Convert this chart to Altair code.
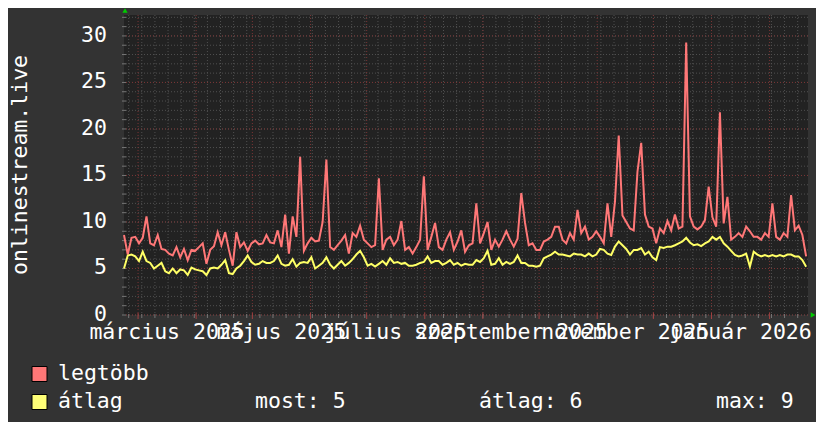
import altair as alt
import pandas as pd

# ---- data (one sample every 2 days) ----
legtobb = [
    8.6, 6.5, 8.3, 8.4, 7.7, 8.3, 10.6, 7.7, 7.5, 8.6,
    7.1, 7.0, 6.6, 6.4, 7.3, 6.2, 7.1, 5.9, 7.0, 6.9,
    7.3, 7.7, 5.5, 7.0, 7.4, 8.9, 7.5, 8.9, 7.0, 5.3,
    8.9, 7.3, 7.8, 6.9, 7.7, 8.0, 7.6, 7.7, 8.6, 7.8,
    7.7, 9.1, 7.3, 10.8, 6.6, 10.6, 8.4, 17.0, 6.9, 7.7,
    8.3, 7.9, 8.0, 10.0, 16.7, 7.3, 7.0, 7.5, 8.0, 8.6,
    6.6, 8.8, 8.4, 9.6, 8.1, 7.7, 7.3, 7.5, 14.7, 7.0,
    8.1, 8.4, 7.5, 8.1, 10.1, 7.0, 7.3, 6.6, 7.3, 8.1,
    14.9, 7.0, 8.4, 9.9, 7.3, 7.0, 8.1, 8.9, 7.0, 7.9,
    9.1, 6.8, 7.5, 7.7, 12.0, 7.7, 8.8, 10.0, 7.0, 8.1,
    7.35, 8.1, 9.0, 8.1, 7.35, 8.2, 13.1, 9.9, 7.5, 7.7,
    7.0, 7.0, 7.9, 8.1, 8.4, 9.5, 9.5, 8.1, 7.7, 8.8,
    8.1, 11.3, 8.8, 9.5, 8.1, 8.4, 9.0, 8.4, 7.7, 12.0,
    8.4, 12.2, 19.3, 10.7, 10.0, 9.3, 9.1, 15.4, 18.5, 10.8,
    9.5, 9.3, 7.7, 9.3, 8.8, 10.1, 9.1, 10.8, 9.3, 9.5,
    29.3, 10.6, 9.5, 9.2, 9.5, 10.2, 13.8, 10.5, 9.5, 21.8,
    9.85, 12.7, 8.1, 8.4, 8.8, 8.4, 9.5, 9.0, 8.4, 8.4,
    8.1, 8.8, 8.4, 12.0, 8.4, 8.1, 8.8, 8.4, 12.9, 9.1,
    9.6, 8.6, 6.3,
]
atlag = [
    5.0, 6.4, 6.5, 6.3, 5.8, 6.8, 5.8, 5.6, 5.0, 5.3,
    5.6, 4.7, 4.5, 5.0, 4.5, 4.9, 4.8, 4.3, 5.1, 4.9,
    4.8, 4.7, 4.3, 5.0, 5.1, 5.0, 5.4, 5.9, 4.5, 4.4,
    5.0, 5.3, 5.8, 6.4, 5.7, 5.4, 5.5, 5.8, 5.6, 5.6,
    5.8, 6.4, 5.5, 5.3, 5.4, 6.0, 5.2, 5.6, 5.7, 5.6,
    6.2, 5.0, 5.3, 5.6, 6.2, 5.4, 5.0, 5.4, 5.8, 5.3,
    5.6, 6.0, 6.5, 6.9, 6.2, 5.3, 5.5, 5.2, 5.5, 5.8,
    5.4, 6.1, 5.6, 5.7, 5.5, 5.6, 5.3, 5.3, 5.4, 5.6,
    5.7, 6.3, 5.6, 5.8, 5.8, 5.4, 5.6, 5.9, 5.4, 5.6,
    5.3, 5.5, 5.4, 5.4, 5.9, 5.7, 6.1, 6.9, 5.4, 5.5,
    6.1, 5.4, 5.7, 5.5, 5.7, 6.4, 5.6, 5.6, 5.3, 5.3,
    5.2, 5.3, 6.1, 6.3, 6.5, 6.8, 6.5, 6.5, 6.4, 6.3,
    6.6, 6.5, 6.5, 6.3, 6.6, 6.3, 6.5, 7.1, 7.0, 6.6,
    6.45, 7.35, 7.9, 7.5, 7.1, 6.5, 7.0, 7.0, 7.2, 6.5,
    6.8, 6.2, 5.9, 7.3, 7.2, 7.35, 7.35, 7.5, 7.7, 7.9,
    8.3, 7.8, 7.5, 7.6, 7.4, 7.7, 7.9, 8.4, 8.1, 8.4,
    7.7, 7.35, 6.9, 6.45, 6.3, 6.4, 6.6, 5.2, 6.8, 6.5,
    6.3, 6.45, 6.3, 6.45, 6.3, 6.45, 6.3, 6.5, 6.5, 6.3,
    6.3, 5.9, 5.2,
]
start = "2025-02-21 12:00"

month_label_texts = ["március 2025", "május 2025", "július 2025",
                     "szeptember 2025", "november 2025", "január 2026"]
month_label_dates = ["2025-03-16 12:00", "2025-05-16 12:00", "2025-07-16 12:00",
                     "2025-09-16 00:00", "2025-11-16 00:00", "2026-01-16 12:00"]
y_major = [0, 5, 10, 15, 20, 25, 30]
y_minor = list(range(0, 33))
y_title = "onlinestream.live"
legend_names = ["legtöbb", "átlag"]
stat_labels = ["most: 5", "átlag: 6", "max: 9"]

RED = "#ff7777"
YEL = "#ffff66"
FONT = "DejaVu Sans Mono"
FS = 21.5

dates = pd.date_range(start, periods=len(legtobb), freq="2D")
df = pd.DataFrame({"date": dates, "legtobb": legtobb, "atlag": atlag})
months = pd.DataFrame({"date": pd.date_range("2025-03-01", periods=12, freq="MS")})
weeks = pd.DataFrame({"date": pd.date_range("2025-02-24", "2026-02-21", freq="7D")})
xlab = pd.DataFrame({"date": pd.to_datetime(month_label_dates), "t": month_label_texts})
ylab = pd.DataFrame({"v": y_major, "t": [str(v) for v in y_major]})

xs = alt.Scale(domain=[alt.DateTime(year=2025, month=2, date=21, hours=12),
                       alt.DateTime(year=2026, month=2, date=21, hours=12)])
ys = alt.Scale(domain=[0, 32.25], nice=False, zero=False)

X = lambda f="date": alt.X(f"{f}:T", scale=xs, axis=None)
Y = lambda f: alt.Y(f"{f}:Q", scale=ys, axis=None)

grid_minor_y = alt.Chart(pd.DataFrame({"v": y_minor})).mark_rule(
    color="#505050", strokeDash=[1, 2], strokeWidth=1).encode(y=Y("v"))
grid_minor_x = alt.Chart(weeks).mark_rule(
    color="#505050", strokeDash=[1, 2], strokeWidth=1).encode(x=X())
grid_major_y = alt.Chart(pd.DataFrame({"v": y_major})).mark_rule(
    color="#7a3535", strokeDash=[1, 2], strokeWidth=1).encode(y=Y("v"))
grid_major_x = alt.Chart(months).mark_rule(
    color="#7a3535", strokeDash=[1, 2], strokeWidth=1).encode(x=X())

tick_minor_x = alt.Chart(weeks).mark_rule(color="#777777").encode(
    x=X(), y=alt.value(299), y2=alt.value(303))
tick_major_x = alt.Chart(months).mark_rule(color="#a04040").encode(
    x=X(), y=alt.value(298), y2=alt.value(304))
tick_minor_y = alt.Chart(pd.DataFrame({"v": y_minor})).mark_rule(color="#777777").encode(
    y=Y("v"), x=alt.value(-2), x2=alt.value(2))

line_max = alt.Chart(df).mark_line(color=RED, strokeWidth=2).encode(x=X(), y=Y("legtobb"))
line_avg = alt.Chart(df).mark_line(color=YEL, strokeWidth=2).encode(x=X(), y=Y("atlag"))

x_labels = alt.Chart(xlab).mark_text(font=FONT, fontSize=FS, color="white",
                                     align="center", baseline="alphabetic").encode(
    x=X(), y=alt.value(323.5), text="t:N")
y_labels = alt.Chart(ylab).mark_text(font=FONT, fontSize=FS, color="white",
                                     align="right", baseline="middle").encode(
    y=Y("v"), x=alt.value(-17), text="t:N")
y_title_mark = alt.Chart(pd.DataFrame({"t": [y_title]})).mark_text(
    font=FONT, fontSize=FS, color="white", angle=270, align="center",
    baseline="alphabetic").encode(x=alt.value(-97), y=alt.value(150), text="t:N")

arrow_up = alt.Chart(pd.DataFrame({"a": [1]})).mark_point(
    shape="triangle-up", filled=True, color="#00cc00", size=28, opacity=1).encode(
    x=alt.value(1), y=alt.value(-4.5))
arrow_right = alt.Chart(pd.DataFrame({"a": [1]})).mark_point(
    shape="triangle-right", filled=True, color="#00cc00", size=28, opacity=1).encode(
    x=alt.value(689), y=alt.value(300))

sq_red = alt.Chart(pd.DataFrame({"t": [legend_names[0]]})).mark_square(
    size=225, filled=True, color=RED, stroke="black", strokeWidth=1, opacity=1).encode(
    x=alt.value(-84.5), y=alt.value(359))
sq_yel = alt.Chart(pd.DataFrame({"t": [legend_names[1]]})).mark_square(
    size=225, filled=True, color="#ffff77", stroke="black", strokeWidth=1, opacity=1).encode(
    x=alt.value(-84.5), y=alt.value(387))
txt_kw = dict(font=FONT, fontSize=FS, color="white", align="left", baseline="alphabetic")
leg_t1 = alt.Chart(pd.DataFrame({"t": [legend_names[0]]})).mark_text(**txt_kw).encode(
    x=alt.value(-66), y=alt.value(365), text="t:N")
leg_t2 = alt.Chart(pd.DataFrame({"t": [legend_names[1]]})).mark_text(**txt_kw).encode(
    x=alt.value(-66), y=alt.value(393), text="t:N")
stat1 = alt.Chart(pd.DataFrame({"t": [stat_labels[0]]})).mark_text(**txt_kw).encode(
    x=alt.value(131), y=alt.value(393), text="t:N")
stat2 = alt.Chart(pd.DataFrame({"t": [stat_labels[1]]})).mark_text(**txt_kw).encode(
    x=alt.value(355), y=alt.value(393), text="t:N")
stat3 = alt.Chart(pd.DataFrame({"t": [stat_labels[2]]})).mark_text(**txt_kw).encode(
    x=alt.value(592), y=alt.value(393), text="t:N")

chart = alt.layer(
    grid_minor_y, grid_minor_x, grid_major_y, grid_major_x,
    tick_minor_x, tick_major_x, tick_minor_y,
    line_max, line_avg,
    x_labels, y_labels, y_title_mark, arrow_up, arrow_right,
    sq_red, sq_yel, leg_t1, leg_t2, stat1, stat2, stat3,
).properties(
    width=684, height=300,
    autosize=alt.AutoSizeParams(type="none"),
    padding={"left": 116, "top": 7, "right": 8, "bottom": 107},
    background="#333333",
).configure_view(fill="#222222", stroke=None)

chart.save("out.html", embed_options={"renderer": "svg", "actions": False})
